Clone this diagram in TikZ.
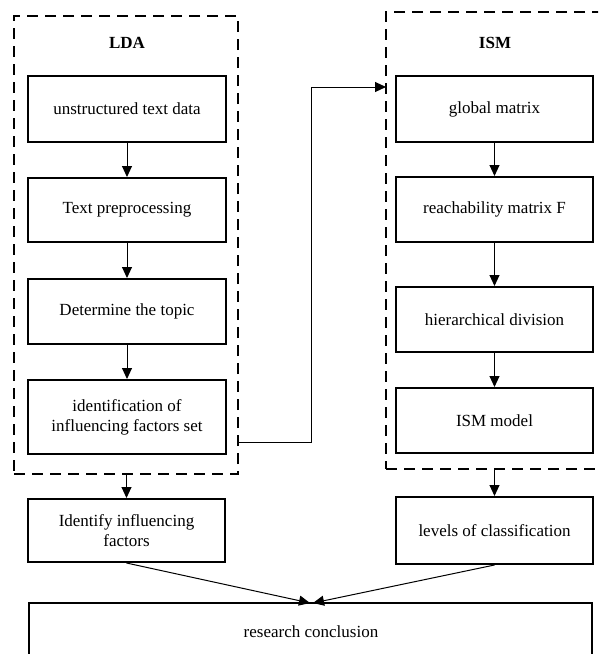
\documentclass[tikz,border=0pt]{standalone}
\usepackage{fontspec}
\setmainfont{Liberation Serif}
\usetikzlibrary{arrows.meta}
\tikzset{
  procbox/.style={draw, line width=2pt, rectangle, align=center, inner sep=2pt,
    font=\fontsize{17}{20}\selectfont},
  dashbox/.style={draw, line width=2pt, dash pattern=on 11pt off 7pt, rectangle},
  flow/.style={line width=1pt, -{Triangle[length=11pt,width=10pt]}},
  title/.style={font=\fontsize{17}{20}\selectfont\bfseries}
}
\begin{document}
\begin{tikzpicture}[x=1pt,y=-1pt]
\useasboundingbox (0,0) rectangle (598,654);
\clip (0,0) rectangle (598,654);
% dashed frames
\node[dashbox, minimum width=224pt, minimum height=458pt] (lda) at (126,245) {};
\node[dashbox, minimum width=240pt, minimum height=457pt] (ism) at (506,240.5) {};
\node[title] (ldat) at (127,43) {LDA};
\node[title] (ismt) at (495,43) {ISM};
% left column
\node[procbox, minimum width=198pt, minimum height=66pt] (b1) at (127,109) {unstructured text data};
\node[procbox, minimum width=198pt, minimum height=64pt] (b2) at (127,210) {Text preprocessing};
\node[procbox, minimum width=198pt, minimum height=65pt] (b3) at (127,311.5) {Determine the topic};
\node[procbox, minimum width=198pt, minimum height=74pt] (b4) at (127,417) {identification of\\influencing factors set};
\node[procbox, minimum width=197pt, minimum height=63pt] (b5) at (126.5,530.5) {Identify influencing\\factors};
% right column
\node[procbox, minimum width=197pt, minimum height=66pt] (r1) at (494.5,109) {global matrix};
\node[procbox, minimum width=197pt, minimum height=65pt] (r2) at (494.5,209.5) {reachability matrix F};
\node[procbox, minimum width=197pt, minimum height=65pt] (r3) at (494.5,319.5) {hierarchical division};
\node[procbox, minimum width=197pt, minimum height=65pt] (r4) at (494.5,420.5) {ISM model};
\node[procbox, minimum width=197pt, minimum height=67pt] (r5) at (494.5,530.5) {levels of classification};
% conclusion
\node[procbox, minimum width=563pt, minimum height=110pt] (rc) at (310.5,658) {};
\node[font=\fontsize{17}{20}\selectfont] (rct) at (311,632) {research conclusion};
\coordinate (tipL) at (310,603);
\coordinate (tipR) at (313,603);
% arrows
\draw[flow] (b1) -- (b2);
\draw[flow] (b2) -- (b3);
\draw[flow] (b3) -- (b4);
\draw[flow] (r1) -- (r2);
\draw[flow] (r2) -- (r3);
\draw[flow] (r3) -- (r4);
\draw[flow] (lda.south -| b5.north) -- (b5.north);
\draw[flow] (ism.south -| r5.north) -- (r5.north);
\coordinate (c1) at (238,442);
\coordinate (c2) at (386,87);
\draw[flow] (c1) -- (311,442) |- (c2);
\draw[flow] (b5.south) -- (tipL);
\draw[flow] (r5.south) -- (tipR);
\end{tikzpicture}
\end{document}
